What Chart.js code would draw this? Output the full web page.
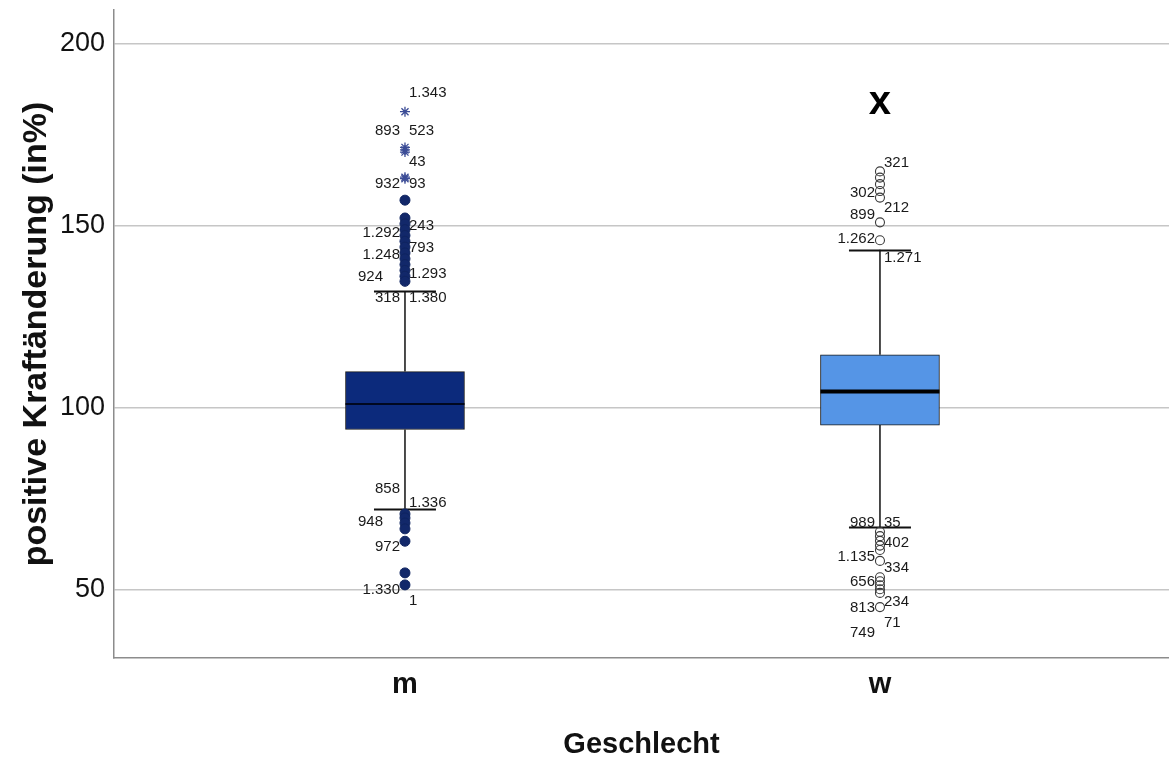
<!DOCTYPE html>
<html>
<head>
<meta charset="utf-8">
<script src="https://cdn.jsdelivr.net/npm/chart.js@4/dist/chart.umd.min.js"></script>
<style>
  html, body { margin: 0; padding: 0; background: #fff; }
  #wrap { width: 1169px; height: 763px; }
</style>
</head>
<body>
<div id="wrap"><canvas id="c" width="1169" height="763"></canvas></div>
<script>
// Groups and box statistics (positive Kraftänderung in %)
const categories   = ['m', 'w'];
const q1           = [94.1, 95.3];
const medians      = [101.1, 104.5];
const q3           = [110.0, 114.6];
const whiskerLow   = [72.3, 67.3];
const whiskerHigh  = [132.1, 143.5];

// Outliers per group
const mExtremes = [181.4, 171.6, 170.9, 170.3, 163.4, 163.0];
const mOutliers = [157.1, 152.2, 150.6, 149.0, 147.4, 145.8, 144.2, 142.6, 141.0, 139.4,
                   137.8, 136.2, 134.8, 70.9, 69.8, 68.4, 66.8, 63.4, 54.7, 51.4];
const wOutliers = [165.0, 163.3, 161.5, 159.6, 157.8, 151.0, 146.1, 66.0, 64.8, 63.5,
                   62.2, 61.0, 58.0, 53.5, 52.4, 51.3, 50.2, 49.2, 45.3];

// Case labels next to the outliers
const mLabelText = ['1.343','893','523','43','932','93','1.292','243','1.248','793','924','1.293',
                    '318','1.380','858','1.336','948','972','1.330','1'];
const mLabelAt   = [186.5,176.1,176.1,167.6,161.5,161.5,148.1,150.0,142.0,144.0,136.0,136.8,
                    130.2,130.2,77.7,73.9,68.7,61.8,50.0,47.0];
const mLabelSide = ['R','L','R','R','L','R','L','R','L','R','LL','R','L','R','L','R','LL','L','L','R'];

const wLabelText = ['321','302','212','899','1.262','1.271','989','35','402','1.135','334','656',
                    '234','813','71','749'];
const wLabelAt   = [167.3,159.1,154.9,153.0,146.4,141.2,68.4,68.4,62.9,59.1,56.0,52.2,
                    46.7,45.1,40.9,38.2];
const wLabelSide = ['R','L','R','L','L','R','L','R','R','L','R','L','R','L','R','L'];

// Marker drawn above group w
const markText = 'x';
const markAt   = 183.7;

// Y ticks
const yTicks = [50, 100, 150, 200];

const FONT = "'Liberation Sans', Arial, sans-serif";
const boxColors = ['#0c2a7c', '#5595e6'];

const boxData = categories.map((c, i) => ({ x: i + 1, y: [q1[i], q3[i]] }));
const pts = (arr, i) => arr.map(v => ({ x: i + 1, y: v }));

const boxPlugin = {
  id: 'boxParts',
  beforeDatasetsDraw(chart) {
    const { ctx, scales: { x, y } } = chart;
    ctx.save();
    ctx.strokeStyle = '#111';
    categories.forEach((c, i) => {
      const px = x.getPixelForValue(i + 1);
      const capHalf = 31;
      // whisker stems
      ctx.lineWidth = 1.5;
      ctx.beginPath();
      ctx.moveTo(px, y.getPixelForValue(q3[i]));
      ctx.lineTo(px, y.getPixelForValue(whiskerHigh[i]));
      ctx.moveTo(px, y.getPixelForValue(q1[i]));
      ctx.lineTo(px, y.getPixelForValue(whiskerLow[i]));
      ctx.stroke();
      // caps
      ctx.lineWidth = 2;
      ctx.beginPath();
      [whiskerHigh[i], whiskerLow[i]].forEach(v => {
        const py = Math.round(y.getPixelForValue(v)) + 0.5;
        ctx.moveTo(px - capHalf, py);
        ctx.lineTo(px + capHalf, py);
      });
      ctx.stroke();
    });
    ctx.restore();
  },
  afterDatasetsDraw(chart) {
    const { ctx, scales: { x, y } } = chart;
    const boxMeta = chart.getDatasetMeta(0);
    ctx.save();
    // medians
    categories.forEach((c, i) => {
      const bar = boxMeta.data[i];
      const half = bar.width / 2;
      const px = bar.x;
      const py = y.getPixelForValue(medians[i]);
      ctx.strokeStyle = i === 0 ? '#000820' : '#000';
      ctx.lineWidth = i === 0 ? 2 : 4;
      ctx.beginPath();
      ctx.moveTo(px - half, py);
      ctx.lineTo(px + half, py);
      ctx.stroke();
    });
    // case labels
    ctx.font = '15px ' + FONT;
    ctx.fillStyle = '#1a1a1a';
    ctx.textBaseline = 'middle';
    const drawLabels = (texts, at, sides, i) => {
      const px = x.getPixelForValue(i + 1);
      texts.forEach((t, k) => {
        const py = y.getPixelForValue(at[k]);
        if (sides[k] === 'R') { ctx.textAlign = 'left'; ctx.fillText(t, px + 4, py); }
        else if (sides[k] === 'L') { ctx.textAlign = 'right'; ctx.fillText(t, px - 5, py); }
        else { ctx.textAlign = 'right'; ctx.fillText(t, px - 22, py); }
      });
    };
    drawLabels(mLabelText, mLabelAt, mLabelSide, 0);
    drawLabels(wLabelText, wLabelAt, wLabelSide, 1);
    // marker above w
    ctx.font = 'bold 40px ' + FONT;
    ctx.fillStyle = '#000';
    ctx.textAlign = 'center';
    ctx.fillText(markText, x.getPixelForValue(2), y.getPixelForValue(markAt));
    ctx.restore();
  }
};

new Chart(document.getElementById('c'), {
  type: 'bar',
  data: {
    datasets: [
      {
        type: 'bar',
        label: 'box',
        data: boxData,
        backgroundColor: boxColors,
        borderColor: '#1b1b1b',
        borderWidth: 1,
        borderSkipped: false,
        barThickness: 119,
        order: 5
      },
      {
        type: 'scatter',
        label: 'm extreme',
        data: pts(mExtremes, 0),
        pointStyle: 'star',
        radius: 5,
        borderColor: '#3b4c96',
        borderWidth: 1.3,
        backgroundColor: '#3b4c96'
      },
      {
        type: 'scatter',
        label: 'm outlier',
        data: pts(mOutliers, 0),
        pointStyle: 'circle',
        radius: 5,
        borderColor: '#0f2460',
        borderWidth: 1,
        backgroundColor: '#12286a'
      },
      {
        type: 'scatter',
        label: 'w outlier',
        data: pts(wOutliers, 1),
        pointStyle: 'circle',
        radius: 4.5,
        borderColor: '#3a3a3a',
        borderWidth: 1.1,
        backgroundColor: 'rgba(255,255,255,0)'
      }
    ]
  },
  options: {
    responsive: false,
    animation: false,
    events: [],
    layout: { autoPadding: false, padding: { left: 0, right: 0, top: 10, bottom: 0 } },
    plugins: { legend: { display: false }, tooltip: { enabled: false } },
    scales: {
      x: {
        type: 'linear',
        offset: false,
        min: 0.3874,
        max: 2.6085,
        afterBuildTicks: s => { s.ticks = categories.map((c, i) => ({ value: i + 1 })); },
        afterFit: s => { s.height = 105; s.paddingLeft = 0; s.paddingRight = 0; },
        ticks: {
          callback: v => categories[v - 1] || '',
          font: { family: FONT, size: 29, weight: 'bold', lineHeight: 1 },
          color: '#111',
          padding: 12,
          maxRotation: 0,
          autoSkip: false
        },
        grid: { display: false, drawTicks: false, tickLength: 0, offset: false },
        border: { display: true, color: '#8c8c8c', width: 1.5 },
        title: {
          display: true,
          text: 'Geschlecht',
          font: { family: FONT, size: 29, weight: 'bold', lineHeight: 1 },
          color: '#111',
          padding: { top: 0, bottom: 3.5 }
        }
      },
      y: {
        type: 'linear',
        min: 31.32,
        max: 209.34,
        afterBuildTicks: s => { s.ticks = yTicks.map(v => ({ value: v })); },
        afterFit: s => { s.width = 114; s.paddingTop = 0; s.paddingBottom = 0; },
        ticks: {
          font: { family: FONT, size: 27, lineHeight: 1 },
          color: '#111',
          padding: 9
        },
        grid: { color: '#c6c6c6', lineWidth: 1.5, drawTicks: false, tickLength: 0 },
        border: { display: true, color: '#8c8c8c', width: 1.5 },
        title: {
          display: true,
          text: 'positive Kraftänderung (in%)',
          font: { family: FONT, size: 34, weight: 'bold', lineHeight: 1 },
          color: '#111',
          padding: { top: 20, bottom: 0 }
        }
      }
    }
  },
  plugins: [boxPlugin]
});
</script>
</body>
</html>
